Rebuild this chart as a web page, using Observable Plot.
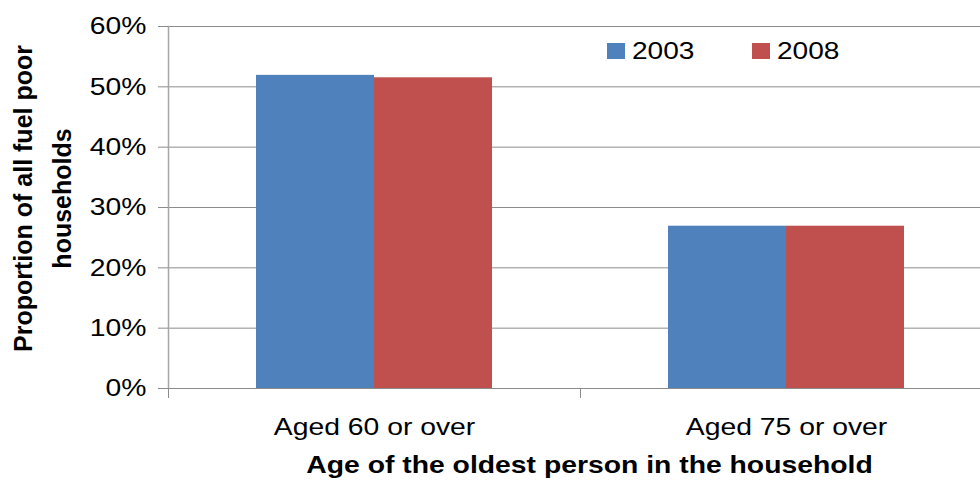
<!DOCTYPE html>
<html><head><meta charset="utf-8">
<script src="https://cdn.jsdelivr.net/npm/d3@7"></script>
<script src="https://cdn.jsdelivr.net/npm/@observablehq/plot@0.6"></script>
<style>
body{margin:0;background:#fff;}
#chart{position:relative;width:980px;height:481px;font-family:"Liberation Sans",Arial,sans-serif;overflow:hidden;}
.legend{position:absolute;top:40px;left:607px;height:22px;}
.legend .item{position:absolute;top:0;display:flex;align-items:center;font-size:24px;color:#000;}
.legend .sw{width:18px;height:16px;display:inline-block;margin-right:7px;}
.legend .lbl{display:inline-block;transform:scaleX(1.17);transform-origin:left center;line-height:22px;}
</style></head><body><div id="chart"></div>
<script>
const categories = ["Aged 60 or over", "Aged 75 or over"];
const years = ["2003", "2008"];
const values2003 = [0.519, 0.269];
const values2008 = [0.515, 0.269];
const yTicks = [0, 0.1, 0.2, 0.3, 0.4, 0.5, 0.6];
const colors = ["#4F81BD", "#C0504D"];
const yTitle = "Proportion of all fuel poor\nhouseholds";
const xTitle = "Age of the oldest person in the household";

const data = categories.flatMap((c, i) => [
  {category: c, year: years[0], value: values2003[i]},
  {category: c, year: years[1], value: values2008[i]}
]);

const font = '"Liberation Sans", Arial, sans-serif';
const plot = Plot.plot({
  width: 980, height: 481,
  marginTop: 26, marginBottom: 93, marginLeft: 168, marginRight: -12,
  style: {fontFamily: font, fontSize: "24px", color: "#000", background: "#fff", overflow: "hidden"},
  fx: {domain: categories, padding: 0, label: null},
  x: {domain: years, paddingInner: 0, paddingOuter: 0.74, axis: null},
  y: {domain: [0, 0.6]},
  color: {domain: years, range: colors},
  marks: [
    Plot.gridY(yTicks, {stroke: "#8c8c8c", strokeOpacity: 1, strokeWidth: 1}),
    Plot.barY(data, {fx: "category", x: "year", y: "value", fill: "year"}),
    Plot.frame({anchor: "left", facetAnchor: "left", stroke: "#a6a6a6", strokeWidth: 1.5}),
    Plot.frame({anchor: "left", insetTop: 362, insetBottom: -9, stroke: "#8c8c8c"}),
    Plot.axisY(yTicks, {tickFormat: d3.format(".0%"), tickSize: 10, tickPadding: 12, stroke: "#8c8c8c", fontSize: 24, label: null}),
    Plot.axisFx({anchor: "bottom", tickSize: 0, tickPadding: 29, fontSize: 24, label: null}),
    Plot.text([yTitle], {frameAnchor: "left", facetAnchor: "left", textAnchor: "middle", lineAnchor: "middle", rotate: -90, dx: -129, dy: -9, fontWeight: "bold", fontSize: 25, lineHeight: 1.56, fill: "#000"}),
    Plot.text([xTitle], {facet: "super", frameAnchor: "bottom", dx: 9, dy: 84, fontWeight: "bold", fontSize: 24, fill: "#000"})
  ]
});

const chart = document.getElementById("chart");
chart.appendChild(plot);

// horizontal stretch of text, as in the reference image
plot.querySelectorAll("text").forEach(t => {
  if (t.querySelector("tspan")) return;
  const tr = (t.getAttribute("transform") || "") + (t.parentNode.getAttribute("transform") || "");
  if (tr.includes("rotate")) return;
  const len = t.getComputedTextLength();
  if (len > 0) {
    t.setAttribute("textLength", len * 1.18);
    t.setAttribute("lengthAdjust", "spacingAndGlyphs");
  }
});

// legend
const legend = document.createElement("div");
legend.className = "legend";
const legendX = [0, 145];
years.forEach((y, i) => {
  const item = document.createElement("div");
  item.className = "item";
  item.style.left = legendX[i] + "px";
  const sw = document.createElement("span");
  sw.className = "sw";
  sw.style.background = colors[i];
  const lbl = document.createElement("span");
  lbl.className = "lbl";
  lbl.textContent = y;
  item.appendChild(sw);
  item.appendChild(lbl);
  legend.appendChild(item);
});
chart.appendChild(legend);
</script>
</body></html>
